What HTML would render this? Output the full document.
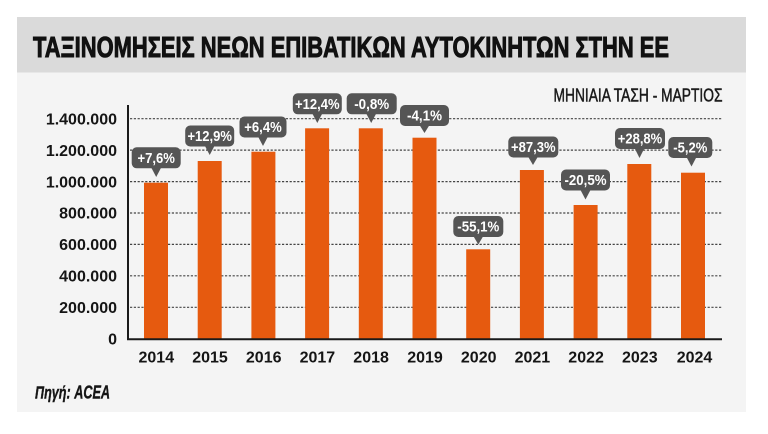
<!DOCTYPE html>
<html>
<head>
<meta charset="utf-8">
<style>
  html, body { margin:0; padding:0; background:#ffffff; }
  body { width:768px; height:434px; overflow:hidden; }
  svg { display:block; }
  text { font-family: "Liberation Sans", "DejaVu Sans", sans-serif; }
</style>
</head>
<body>
<svg width="768" height="434" viewBox="0 0 768 434" xmlns="http://www.w3.org/2000/svg">
  <rect x="0" y="0" width="768" height="434" fill="#ffffff"/>
  <!-- panel -->
  <rect x="17" y="17" width="729" height="395" fill="#f4f4f4"/>
  <!-- title band -->
  <rect x="17" y="17" width="729" height="55.5" fill="#dadada"/>
  <text x="33" y="57" font-size="29" font-weight="bold" fill="#111" stroke="#111" stroke-width="1" textLength="636" lengthAdjust="spacingAndGlyphs">ΤΑΞΙΝΟΜΗΣΕΙΣ ΝΕΩΝ ΕΠΙΒΑΤΙΚΩΝ ΑΥΤΟΚΙΝΗΤΩΝ ΣΤΗΝ ΕΕ</text>

  <!-- subtitle -->
  <text x="553.5" y="101.5" font-size="18" fill="#1a1a1a" stroke="#1a1a1a" stroke-width="0.5" textLength="169" lengthAdjust="spacingAndGlyphs">ΜΗΝΙΑΙΑ ΤΑΣΗ - ΜΑΡΤΙΟΣ</text>

  <!-- gridlines -->
  <g stroke="#444" stroke-width="1.2" stroke-dasharray="2.2,1.6">
    <line x1="130" y1="118.7" x2="722" y2="118.7"/>
    <line x1="130" y1="150.1" x2="722" y2="150.1"/>
    <line x1="130" y1="181.6" x2="722" y2="181.6"/>
    <line x1="130" y1="213.0" x2="722" y2="213.0"/>
    <line x1="130" y1="244.4" x2="722" y2="244.4"/>
    <line x1="130" y1="275.8" x2="722" y2="275.8"/>
    <line x1="130" y1="307.3" x2="722" y2="307.3"/>
  </g>

  <!-- y labels -->
  <g font-size="16" font-weight="bold" fill="#151515" text-anchor="end">
    <text x="117" y="124.4">1.400.000</text>
    <text x="117" y="155.8">1.200.000</text>
    <text x="117" y="187.3">1.000.000</text>
    <text x="117" y="218.7">800.000</text>
    <text x="117" y="250.1">600.000</text>
    <text x="117" y="281.5">400.000</text>
    <text x="117" y="313.0">200.000</text>
    <text x="117" y="344.4">0</text>
  </g>

  <!-- bars -->
  <g fill="#e65a0f">
    <rect x="144" y="182.7" width="24" height="156"/>
    <rect x="197.7" y="161" width="24" height="178"/>
    <rect x="251.4" y="151.7" width="24" height="187"/>
    <rect x="305.1" y="128.3" width="24" height="211"/>
    <rect x="358.8" y="128.3" width="24" height="211"/>
    <rect x="412.5" y="137.7" width="24" height="201"/>
    <rect x="466.2" y="249.3" width="24" height="90"/>
    <rect x="519.9" y="170" width="24" height="169"/>
    <rect x="573.6" y="205" width="24" height="134"/>
    <rect x="627.3" y="164" width="24" height="175"/>
    <rect x="681" y="172.7" width="24" height="166"/>
  </g>

  <!-- axes -->
  <line x1="128" y1="105" x2="128" y2="340" stroke="#1a1a1a" stroke-width="2"/>
  <line x1="127" y1="339.3" x2="722" y2="339.3" stroke="#1a1a1a" stroke-width="2"/>

  <!-- x labels -->
  <g font-size="16" font-weight="bold" fill="#151515" text-anchor="middle">
    <text x="156.3" y="362.5">2014</text>
    <text x="210" y="362.5">2015</text>
    <text x="263.7" y="362.5">2016</text>
    <text x="317.4" y="362.5">2017</text>
    <text x="371.1" y="362.5">2018</text>
    <text x="425" y="362.5">2019</text>
    <text x="478.7" y="362.5">2020</text>
    <text x="532.4" y="362.5">2021</text>
    <text x="586.1" y="362.5">2022</text>
    <text x="639.8" y="362.5">2023</text>
    <text x="694.5" y="362.5">2024</text>
  </g>

  <!-- callouts -->
  <g fill="#555555">
    <rect x="131.7" y="147.3" width="49" height="21" rx="5"/>
    <polygon points="151.2,167.5 161.2,167.5 156.2,177"/>
    <rect x="185.2" y="125.5" width="49" height="21" rx="5"/>
    <polygon points="204.7,145.5 214.7,145.5 209.7,155"/>
    <rect x="239.5" y="116.5" width="47" height="21" rx="5"/>
    <polygon points="258,136.5 268,136.5 263,146"/>
    <rect x="292.8" y="93.3" width="49" height="21" rx="5"/>
    <polygon points="312.3,113.5 322.3,113.5 317.3,123"/>
    <rect x="346.7" y="93.3" width="50" height="21" rx="5"/>
    <polygon points="366.2,113.5 376.2,113.5 371.2,123"/>
    <rect x="400" y="105" width="49" height="21" rx="5"/>
    <polygon points="419.5,125 429.5,125 424.5,133"/>
    <rect x="453.3" y="216" width="50" height="21" rx="5"/>
    <polygon points="473.3,236 483.3,236 478.3,244.5"/>
    <rect x="508.3" y="136.5" width="50" height="21" rx="5"/>
    <polygon points="528,156.5 538,156.5 533,165"/>
    <rect x="561" y="169.5" width="49" height="21" rx="5"/>
    <polygon points="580.5,190 590.5,190 585.5,199.5"/>
    <rect x="615" y="128" width="50" height="21" rx="5"/>
    <polygon points="634.5,148 644.5,148 639.5,158"/>
    <rect x="668.3" y="137" width="44" height="21" rx="5"/>
    <polygon points="686.5,157 696.5,157 691.5,166.5"/>
  </g>
  <g font-size="14.5" font-weight="bold" fill="#ffffff" text-anchor="middle" lengthAdjust="spacingAndGlyphs">
    <text x="156.2" y="163" textLength="37.5" lengthAdjust="spacingAndGlyphs">+7,6%</text>
    <text x="209.7" y="141.2" textLength="44.5" lengthAdjust="spacingAndGlyphs">+12,9%</text>
    <text x="263" y="132.2" textLength="37.5" lengthAdjust="spacingAndGlyphs">+6,4%</text>
    <text x="317.3" y="109" textLength="44.5" lengthAdjust="spacingAndGlyphs">+12,4%</text>
    <text x="371.7" y="109" textLength="35" lengthAdjust="spacingAndGlyphs">-0,8%</text>
    <text x="424.5" y="120.7" textLength="35" lengthAdjust="spacingAndGlyphs">-4,1%</text>
    <text x="478.3" y="231.7" textLength="42" lengthAdjust="spacingAndGlyphs">-55,1%</text>
    <text x="533.3" y="152.2" textLength="44.5" lengthAdjust="spacingAndGlyphs">+87,3%</text>
    <text x="585.5" y="185.2" textLength="42" lengthAdjust="spacingAndGlyphs">-20,5%</text>
    <text x="640" y="143.7" textLength="44.5" lengthAdjust="spacingAndGlyphs">+28,8%</text>
    <text x="690.3" y="152.7" textLength="34" lengthAdjust="spacingAndGlyphs">-5,2%</text>
  </g>

  <!-- source -->
  <text x="35" y="398.3" font-size="18" font-weight="bold" font-style="italic" fill="#151515" stroke="#151515" stroke-width="0.4" textLength="75" lengthAdjust="spacingAndGlyphs">Πηγή: ACEA</text>
</svg>
</body>
</html>
